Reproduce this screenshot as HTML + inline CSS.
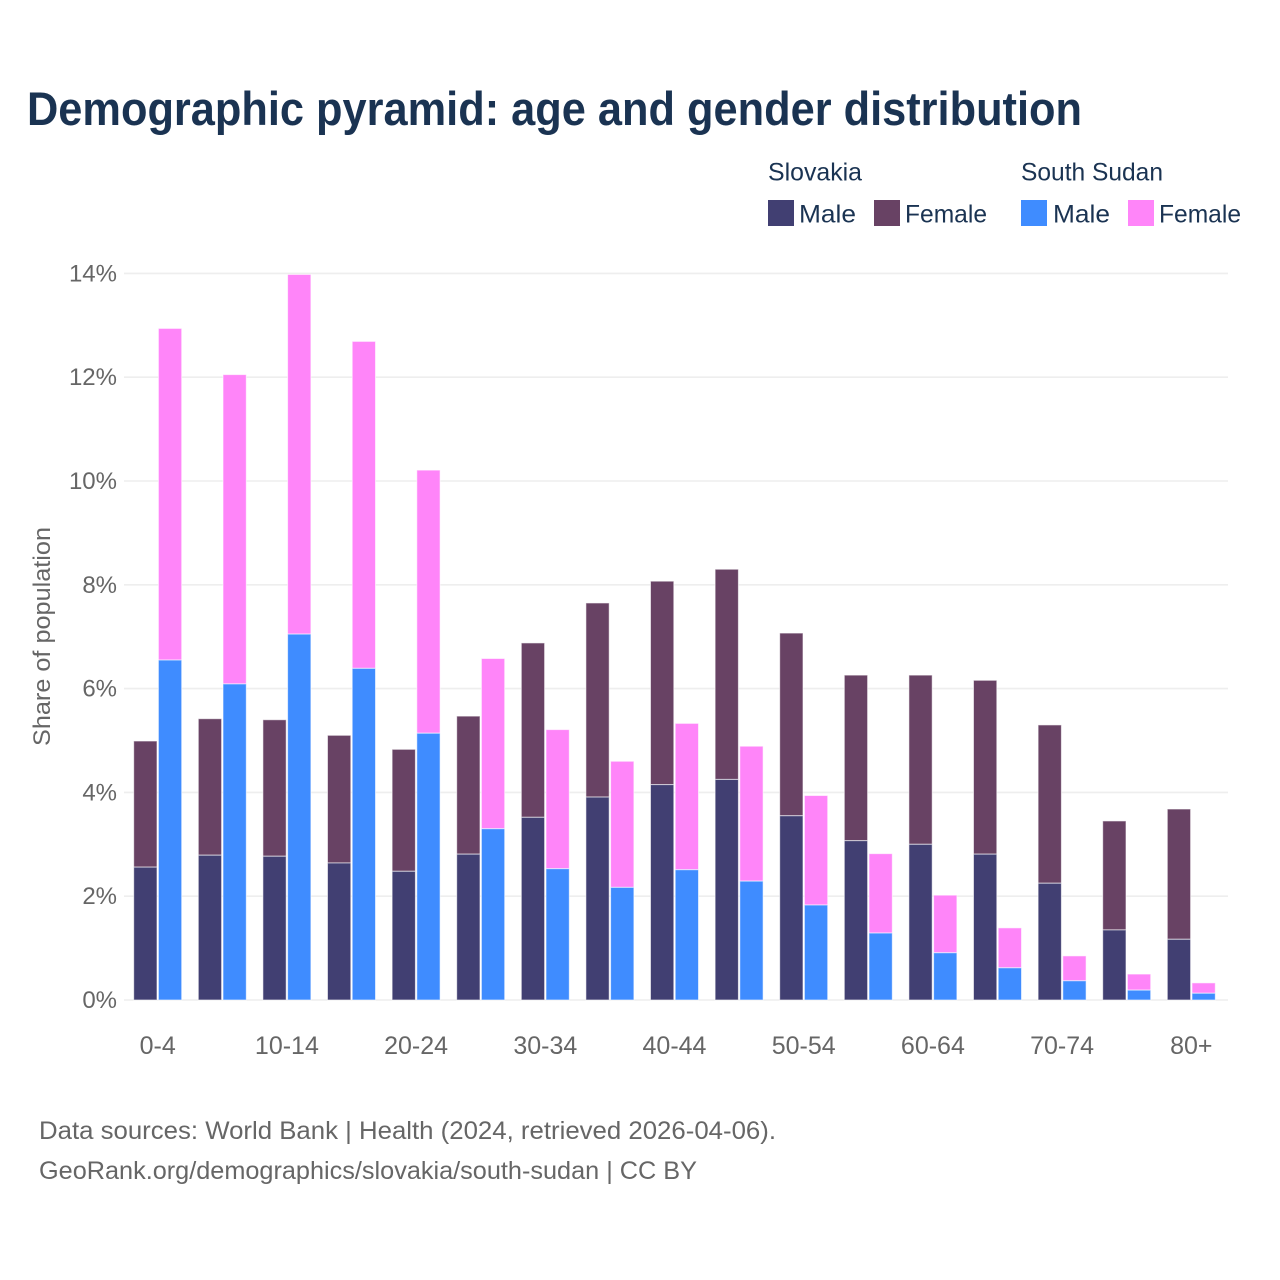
<!DOCTYPE html>
<html lang="en">
<head>
<meta charset="utf-8">
<title>Demographic pyramid: age and gender distribution</title>
<style>
html,body{margin:0;padding:0;background:#fff;width:1280px;height:1280px;overflow:hidden}
svg{display:block}
text{font-family:"Liberation Sans",sans-serif}
</style>
</head>
<body>
<svg id="chart" xmlns="http://www.w3.org/2000/svg" width="1280" height="1280" viewBox="0 0 1280 1280">
  <rect x="0" y="0" width="1280" height="1280" fill="#fff"/>
  <text x="27" y="125" font-size="47" font-weight="700" fill="#1a3352" textLength="1055" lengthAdjust="spacingAndGlyphs">Demographic pyramid: age and gender distribution</text>

  <g font-size="25" fill="#1a3352">
    <text x="768" y="180.5" textLength="94" lengthAdjust="spacingAndGlyphs">Slovakia</text>
    <text x="1021" y="180.5" textLength="142" lengthAdjust="spacingAndGlyphs">South Sudan</text>
    <rect x="768" y="200" width="26" height="26" fill="#413f72"/>
    <text x="799" y="222.5" textLength="57" lengthAdjust="spacingAndGlyphs">Male</text>
    <rect x="874" y="200" width="26" height="26" fill="#684264"/>
    <text x="905" y="222.5" textLength="82" lengthAdjust="spacingAndGlyphs">Female</text>
    <rect x="1021" y="200" width="26" height="26" fill="#3f8cff"/>
    <text x="1053" y="222.5" textLength="57" lengthAdjust="spacingAndGlyphs">Male</text>
    <rect x="1128" y="200" width="26" height="26" fill="#ff85f9"/>
    <text x="1159" y="222.5" textLength="82" lengthAdjust="spacingAndGlyphs">Female</text>
  </g>

  <g id="grid"></g>
  <g id="y-ticks"></g>
  <g id="bars"></g>
  <g id="x-ticks"></g>

  <text transform="translate(50 636.5) rotate(-90)" text-anchor="middle" font-size="24" fill="#666" textLength="219" lengthAdjust="spacingAndGlyphs">Share of population</text>

  <text x="39" y="1139" font-size="25" fill="#666" textLength="737" lengthAdjust="spacingAndGlyphs">Data sources: World Bank | Health (2024, retrieved 2026-04-06).</text>
  <text x="39" y="1179" font-size="25" fill="#666" textLength="658" lengthAdjust="spacingAndGlyphs">GeoRank.org/demographics/slovakia/south-sudan | CC BY</text>
</svg>
<script>
const categories = ['0-4','5-9','10-14','15-19','20-24','25-29','30-34','35-39','40-44','45-49','50-54','55-59','60-64','65-69','70-74','75-79','80+'];
const slovakiaMale = [2.56,2.79,2.77,2.64,2.48,2.81,3.52,3.91,4.15,4.25,3.55,3.07,3.00,2.81,2.25,1.35,1.17];
const slovakiaFemale = [2.43,2.63,2.63,2.46,2.35,2.66,3.36,3.74,3.92,4.05,3.52,3.19,3.26,3.35,3.05,2.10,2.51];
const southSudanMale = [6.55,6.09,7.05,6.39,5.14,3.30,2.53,2.17,2.51,2.29,1.83,1.29,0.91,0.62,0.37,0.19,0.13];
const southSudanFemale = [6.39,5.96,6.93,6.30,5.07,3.28,2.68,2.43,2.82,2.60,2.11,1.53,1.11,0.77,0.48,0.31,0.20];
const yTicks = [0,2,4,6,8,10,12,14];

const NS = 'http://www.w3.org/2000/svg';
const plotLeft = 124, plotRight = 1228, yZero = 1000, pxPerUnit = 51.9;
const groupStart = 133.7, groupStep = 64.6, barStep = 24.7, barWidth = 23.3;
const yScale = function (v) { return yZero - v * pxPerUnit; };
const xScale = function (i, s) { return groupStart + i * groupStep + s * barStep; };
const slug = function (c) { return c.replace('+', '-plus'); };

function make(tag, attrs, parent) {
  const el = document.createElementNS(NS, tag);
  Object.keys(attrs).forEach(function (k) { el.setAttribute(k, attrs[k]); });
  parent.appendChild(el);
  return el;
}

const gridGroup = document.getElementById('grid');
const yTickGroup = document.getElementById('y-ticks');
yTicks.forEach(function (t) {
  const line = make('line', {x1: plotLeft, x2: plotRight, y1: yScale(t), y2: yScale(t), stroke: '#eeeeee', 'stroke-width': 1.6}, gridGroup);
  
  
  const label = make('text', {x: 117, y: yScale(t) + 8, 'text-anchor': 'end', 'font-size': 24, fill: '#666'}, yTickGroup);
  
  
  label.textContent = t + '%';
});

const barGroup = document.getElementById('bars');
function drawSeries(name, male, female, slot, maleColor, femaleColor) {
  categories.forEach(function (c, i) {
    const x = xScale(i, slot);
    const top = male[i] + female[i];
    const femaleRect = make('rect', {x: x, y: yScale(top), width: barWidth, height: yScale(male[i]) - yScale(top), fill: femaleColor, stroke: '#fff', 'stroke-opacity': 0.6, 'stroke-width': 1}, barGroup);
    
    
    const maleRect = make('rect', {x: x, y: yScale(male[i]), width: barWidth, height: yZero - yScale(male[i]), fill: maleColor, stroke: '#fff', 'stroke-opacity': 0.6, 'stroke-width': 1}, barGroup);
    
    
  });
}
drawSeries('slovakia', slovakiaMale, slovakiaFemale, 0, '#413f72', '#684264');
drawSeries('south-sudan', southSudanMale, southSudanFemale, 1, '#3f8cff', '#ff85f9');

const xTickGroup = document.getElementById('x-ticks');
categories.forEach(function (c, i) {
  if (i % 2 !== 0) return;
  const label = make('text', {x: xScale(i, 0) + (barStep + barWidth) / 2, y: 1054, 'text-anchor': 'middle', 'font-size': 25, fill: '#666'}, xTickGroup);
  
  
  label.textContent = c;
});
</script>
</body>
</html>
